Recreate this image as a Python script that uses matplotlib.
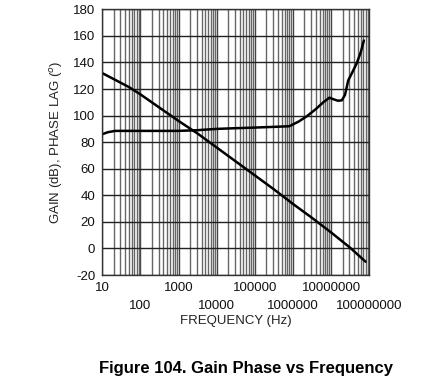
import numpy as np
import matplotlib
matplotlib.use("Agg")
import matplotlib.pyplot as plt
from matplotlib.ticker import LogLocator, NullFormatter, FixedLocator

plt.rcParams['font.family'] = ['Liberation Sans', 'DejaVu Sans']
plt.rcParams['axes.unicode_minus'] = False

# gain curve (dB)
gain_freq = [10, 20, 50, 100, 316, 1e3, 3.16e3, 1e4, 3.16e4, 1e5, 3.16e5,
             1e6, 3.16e6, 1e7, 3.16e7, 8e7]
gain_db = [132, 127.5, 121.5, 116, 106, 96, 86.5, 76, 65.5, 55, 44.5,
           33.5, 23, 12, 0.5, -10]

# phase lag curve (deg)
phase_freq = [10, 14, 22, 100, 1e3, 3e3, 1e4, 3e4, 1e5, 3e5, 8e5, 1.4e6,
              2.3e6, 4e6, 6.2e6, 9e6, 1.1e7, 1.5e7, 1.9e7, 2.3e7, 2.8e7,
              3.5e7, 4.7e7, 6e7, 7.2e7]
phase_deg = [86, 87.5, 88.5, 88.5, 88.5, 89, 90, 90.5, 91, 91.5, 92, 95.5,
             99.5, 105, 110, 113.5, 112.5, 111.2, 111.5, 115.5, 126.5,
             132, 139.5, 148, 156.5]

xticks = [1e1, 1e2, 1e3, 1e4, 1e5, 1e6, 1e7, 1e8]
xlabels = ['10', '100', '1000', '10000', '100000', '1000000', '10000000',
           '100000000']
yticks = list(range(-20, 181, 20))

fig = plt.figure(figsize=(4.35, 3.89), dpi=100)
ax = fig.add_axes([0.235, 0.293, 0.614, 0.683])

ax.plot(gain_freq, gain_db, color='black', lw=1.8, solid_capstyle='round')
ax.plot(phase_freq, phase_deg, color='black', lw=1.8, solid_capstyle='round')

ax.set_xscale('log')
ax.set_xlim(10, 1e8)
ax.set_ylim(-20, 180)
ax.xaxis.set_major_locator(FixedLocator(xticks))
ax.set_xticklabels(xlabels)
ax.xaxis.set_minor_locator(LogLocator(base=10, subs=np.arange(2, 10),
                                      numticks=100))
ax.xaxis.set_minor_formatter(NullFormatter())
ax.set_yticks(yticks)

ax.grid(True, which='major', axis='x', color='#444444', lw=1.0)
ax.grid(True, which='minor', axis='x', color='#666666', lw=1.0)
ax.grid(True, which='major', axis='y', color='#222222', lw=1.0)
ax.set_axisbelow(True)

ax.tick_params(which='both', length=0, labelsize=9.5, colors='#111111')
ax.tick_params(axis='x', pad=5)
ax.tick_params(axis='y', pad=5)
for t in ax.xaxis.get_major_ticks()[1::2]:
    t.set_pad(18)

for s in ax.spines.values():
    s.set_color('#333333')
    s.set_linewidth(1.0)

ax.set_xlabel('FREQUENCY (Hz)', fontsize=9.5, color='#222222', labelpad=2)
ax.set_ylabel(r'GAIN (dB), PHASE LAG ($^o$)', fontsize=9.5, color='#222222',
              labelpad=6)

fig.text(246 / 435, 1 - 368 / 389, 'Figure 104. Gain Phase vs Frequency',
         ha='center', va='center', fontsize=12, fontweight='bold')

fig.savefig('out.png', dpi=100)
